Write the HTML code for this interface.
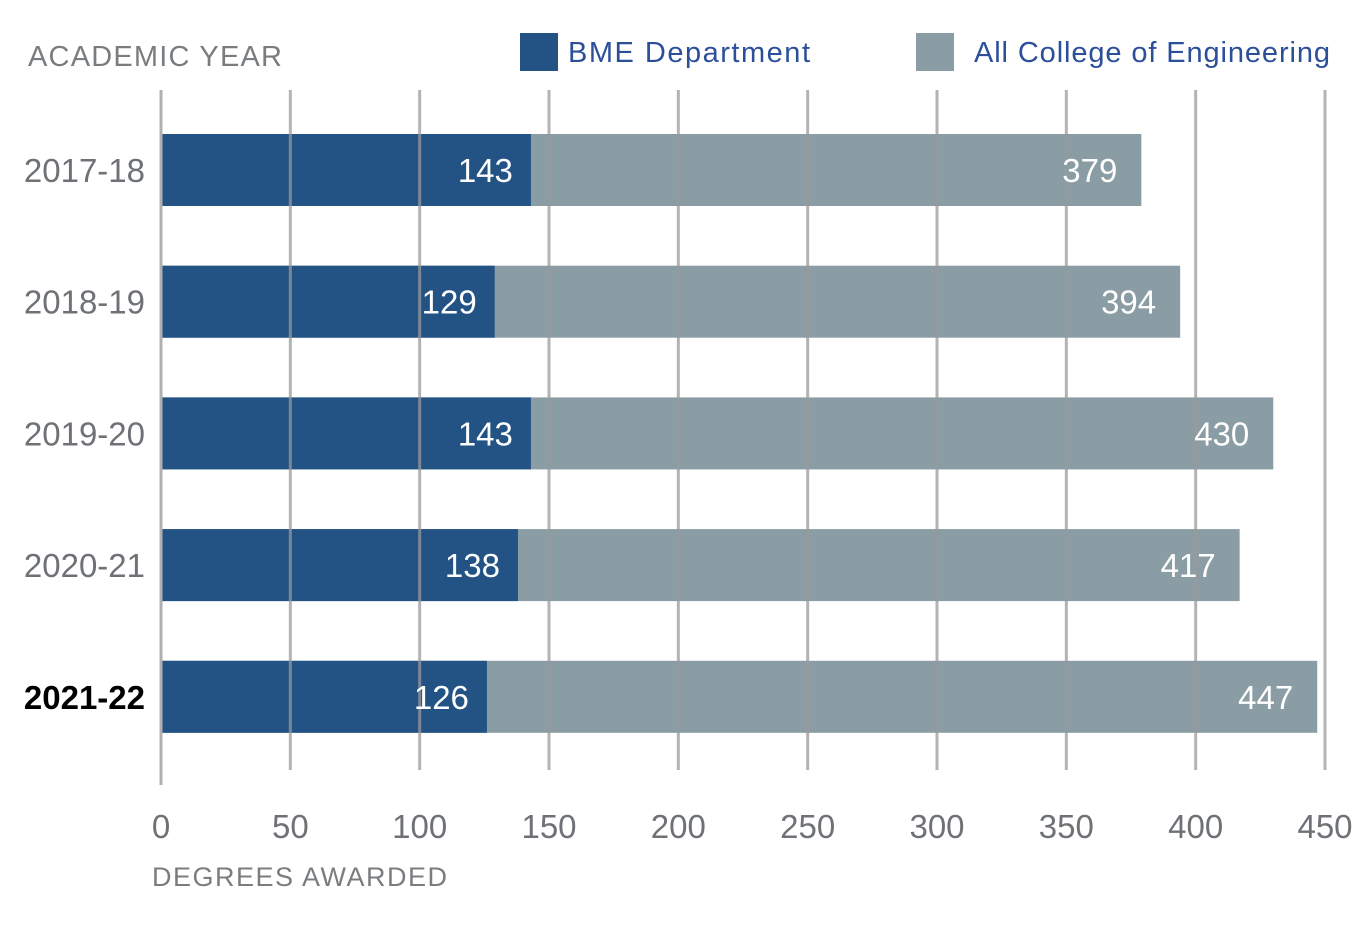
<!DOCTYPE html>
<html><head><meta charset="utf-8"><style>
html,body{margin:0;padding:0;background:#fff;}
svg text{font-family:"Liberation Sans","DejaVu Sans",sans-serif;}
</style></head><body>
<svg id="chart" width="1367" height="923" xmlns="http://www.w3.org/2000/svg">
<text x="28" y="66" font-size="29" fill="#7a7d80" textLength="254">ACADEMIC YEAR</text>
<rect x="520" y="33" width="38" height="38" fill="#225384"/>
<text x="568" y="62" font-size="29" fill="#2c4f9a" textLength="242">BME Department</text>
<rect x="916" y="33" width="38" height="38" fill="#8a9ca4"/>
<text x="974" y="62" font-size="29" fill="#2c4f9a" textLength="356">All College of Engineering</text>
<text x="152" y="886" font-size="27" fill="#7a7d80" textLength="295">DEGREES AWARDED</text>
<g id="bars"></g><g id="grid"></g><g id="labels"></g>
</svg>
<script>
const years = ["2017-18","2018-19","2019-20","2020-21","2021-22"];
const bme = [143,129,143,138,126];
const coe = [379,394,430,417,447];
const ticks = [0,50,100,150,200,250,300,350,400,450];
const NS="http://www.w3.org/2000/svg";
const x0=161, x1=1325, xmax=450;
const xs=v=>x0+(x1-x0)*v/xmax;
const yc=i=>170+i*131.7;
const bh=72;
function mk(tag,attrs,parent,text){const e=document.createElementNS(NS,tag);for(const k in attrs)e.setAttribute(k,attrs[k]);if(text!==undefined)e.textContent=text;parent.appendChild(e);return e;}
const gb=document.getElementById('bars'),gg=document.getElementById('grid'),gl=document.getElementById('labels');
years.forEach((y,i)=>{
  const r1=mk('rect',{x:x0,y:yc(i)-bh/2,width:xs(coe[i])-x0,height:bh,fill:'#8a9ca4'},gb);
  
  
  const r2=mk('rect',{x:x0,y:yc(i)-bh/2,width:xs(bme[i])-x0,height:bh,fill:'#225384'},gb);
  
  
  const last=i===years.length-1;
  const t=mk('text',{x:145,y:yc(i)+12,'font-size':33,'text-anchor':'end',fill:last?'#000':'#6e7175','font-weight':last?'bold':'normal'},gl,y);
  
  
  const a=mk('text',{x:xs(bme[i])-18,y:yc(i)+12,'font-size':33,'text-anchor':'end',fill:'#fff'},gl,bme[i]);
  
  
  const b=mk('text',{x:xs(coe[i])-24,y:yc(i)+12,'font-size':33,'text-anchor':'end',fill:'#fff'},gl,coe[i]);
  
  
});
ticks.forEach(v=>{
  const l=mk('line',{x1:xs(v),x2:xs(v),y1:90,y2:v===0?785:770,stroke:v===0?'#b0b0b0':'#999','stroke-width':3,'stroke-opacity':v===0?1:0.75},gg);
  
  
  const t=mk('text',{x:xs(v),y:838,'font-size':33,'text-anchor':'middle',fill:'#6e7175'},gl,v);
  
  
});
</script>
</body></html>
